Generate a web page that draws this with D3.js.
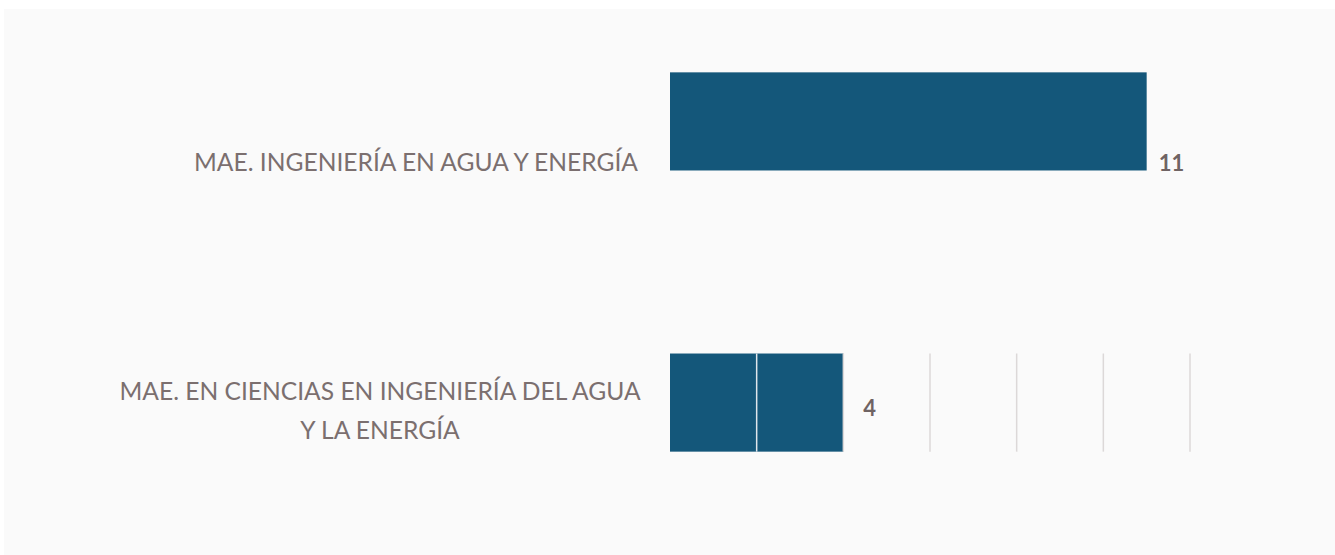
<!DOCTYPE html>
<html><head><meta charset="utf-8">
<script src="https://cdn.jsdelivr.net/npm/d3@7"></script>
<style>body{margin:0;background:#fff}svg{display:block}</style>
</head><body>
<svg id="c" width="1335" height="555"></svg>
<script>
const categories = [
  ["MAE. INGENIERÍA EN AGUA Y ENERGÍA"],
  ["MAE. EN CIENCIAS EN INGENIERÍA DEL AGUA", "Y LA ENERGÍA"]
];
const values = [11, 4];
const tickValues = [0, 2, 4, 6, 8, 10, 12];

const svg = d3.select("#c");
svg.append("rect").attr("x", 4).attr("y", 9).attr("width", 1331).attr("height", 546).attr("fill", "#fafafa");

const x = d3.scaleLinear().domain([0, 12]).range([670, 1190]);
const y = d3.scaleBand().domain(d3.range(categories.length))
  .range([-12, 536]).paddingInner(0.651).paddingOuter(0.3);

// bars
svg.selectAll("rect.bar").data(values).join("rect").attr("class", "bar")
  .attr("x", x(0)).attr("y", (d, i) => y(i))
  .attr("width", d => x(d) - x(0)).attr("height", y.bandwidth())
  .attr("fill", "#14577a");

// gridlines (visible in the lower band)
const gi = 1;
svg.selectAll("line.grid").data(tickValues.filter(t => t > 0)).join("line").attr("class", "grid")
  .attr("x1", d => x(d)).attr("x2", d => x(d))
  .attr("y1", y(gi)).attr("y2", y(gi) + y.bandwidth())
  .attr("stroke", (d) => d < values[gi] ? "#dfe6ec" : "#dcd8d8").attr("stroke-width", 1.5);

// category labels
const labelOffset = [42, 9];
const lineH = 39;
categories.forEach((lines, i) => {
  const cy = y(i) + y.bandwidth() / 2 + labelOffset[i];
  const t = svg.append("text").attr("text-anchor", "middle")
    .attr("font-family", "Lato, sans-serif").attr("font-size", 24.6)
    .attr("fill", "#7b6f6f");
  lines.forEach((ln, k) => {
    t.append("tspan").attr("x", i === 0 ? 416 : 380)
      .attr("y", cy + (k - (lines.length - 1) / 2) * lineH + 8).text(ln);
  });
});

// value labels
const valOffset = [42, 5];
svg.selectAll("text.val").data(values).join("text").attr("class", "val")
  .attr("x", d => x(d) + (d > 5 ? 12 : 20))
  .attr("y", (d, i) => y(i) + y.bandwidth() / 2 + valOffset[i] + 8)
  .attr("font-family", "Lato, sans-serif").attr("font-size", 22).attr("font-weight", 700)
  .attr("fill", "#6f6363").text(d => d);
</script>
</body></html>
